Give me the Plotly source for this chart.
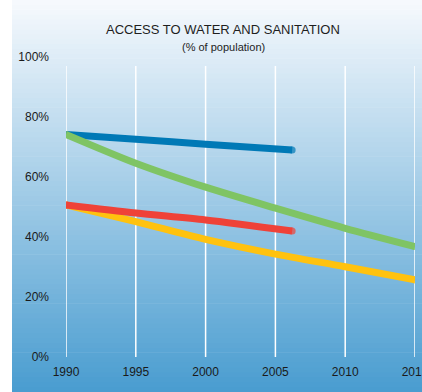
import plotly.graph_objects as go

# data (% of population)
years_long = [1990, 1995, 2000, 2005, 2010, 2015]
years_short = [1990, 1995, 2000, 2006.2]
blue_vals = [74.2, 72.6, 70.9, 69.0]
green_vals = [74.2, 64.6, 56.6, 49.6, 42.9, 36.8]
yellow_vals = [50.7, 45.1, 39.2, 34.3, 30.1, 25.7]
red_vals = [50.7, 48.0, 45.7, 42.0]
y_ticks = [0, 20, 40, 60, 80, 100]
y_ticklabels = ["0%", "20%", "40%", "60%", "80%", "100%"]

W, H = 422, 392
L, R, T, B = 66, 7, 57, 35
pw, ph = W - L - R, H - T - B

fig = go.Figure()

def add_line(x, y, color):
    sizes = [7] + [0] * (len(x) - 2) + [7]
    fig.add_trace(go.Scatter(
        x=x, y=y, mode="lines+markers",
        line=dict(color=color, width=7, shape="spline", smoothing=0.8),
        marker=dict(color=color, size=sizes, line=dict(width=0)),
        hoverinfo="skip", showlegend=False,
    ))

add_line(years_short, blue_vals, "#0079b6")
add_line(years_long, green_vals, "#7fc464")
add_line(years_long, yellow_vals, "#ffc20f")
add_line(years_short, red_vals, "#ef4238")

# gradient background built from thin strips
shapes = []
top_c = (246, 249, 253)
bot_c = (74, 157, 208)
n = 80
x0 = -(L - 12) / pw
x1 = 1 + R / pw + 0.05
y_bot = -B / ph
y_top = 1 + T / ph
for i in range(n):
    f = i / (n - 1)
    c = tuple(round(bot_c[k] + (top_c[k] - bot_c[k]) * f) for k in range(3))
    ya = y_bot + (y_top - y_bot) * i / n
    yb = y_bot + (y_top - y_bot) * (i + 1) / n + 0.002
    shapes.append(dict(type="rect", xref="paper", yref="paper", x0=x0, x1=x1,
                       y0=ya, y1=yb, fillcolor="rgb(%d,%d,%d)" % c,
                       line=dict(width=0), layer="below"))

# white vertical grid lines
for yr in years_long:
    shapes.append(dict(type="line", xref="x", yref="y", x0=yr, x1=yr, y0=0, y1=97,
                       line=dict(color="white", width=1.5), layer="below"))

annotations = [
    dict(text="ACCESS TO WATER AND SANITATION", xref="paper", yref="paper",
         x=(223 - L) / pw, y=(H - B - 20) / ph, showarrow=False,
         font=dict(size=13, color="#1e1e1e")),
    dict(text="(% of population)", xref="paper", yref="paper",
         x=(223 - L) / pw, y=(H - B - 39) / ph, showarrow=False,
         font=dict(size=11, color="#1e1e1e")),
]

fig.update_layout(
    width=W, height=H,
    margin=dict(l=L, r=R, t=T, b=B),
    paper_bgcolor="white", plot_bgcolor="rgba(0,0,0,0)",
    font=dict(family="Liberation Sans, Arial, sans-serif", size=12, color="#1a1a1a"),
    shapes=shapes, annotations=annotations,
)
fig.update_xaxes(range=[1990, 2015], tickvals=years_long, showgrid=False,
                 zeroline=False, showline=False, ticks="", ticklabelstandoff=6,
                 ticklabeloverflow="allow", automargin=False, fixedrange=True)
fig.update_yaxes(range=[0, 100], tickvals=y_ticks, ticktext=y_ticklabels,
                 showgrid=False, zeroline=False, showline=False, ticks="",
                 ticklabelstandoff=16, automargin=False, fixedrange=True)

fig.write_html("out.html", config=dict(displayModeBar=False),
               post_script="document.body.style.margin='0px';document.body.style.overflow='hidden';")
